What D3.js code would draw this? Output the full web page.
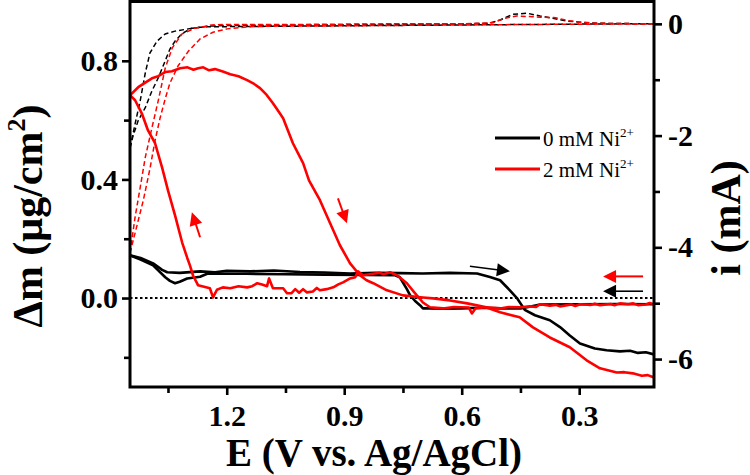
<!DOCTYPE html>
<html><head><meta charset="utf-8">
<script src="https://cdn.jsdelivr.net/npm/d3@7"></script>
<style>
html,body{margin:0;padding:0;background:#fff;}
svg{display:block;}
</style></head><body>
<svg id="chart" width="750" height="475"></svg>
<script>
// ---------------- data ----------------
const xTicks = [1.2, 0.9, 0.6, 0.3];
const xMinorTicks = [1.35, 1.05, 0.75, 0.45];
const massTicks = [0.0, 0.4, 0.8];
const massMinorTicks = [-0.2, 0.2, 0.6];
const currentTicks = [0, -2, -4, -6];
const currentMinorTicks = [-1, -3, -5];

const legendLabels = ["0 mM Ni", "2 mM Ni"];

// Δm (µg/cm²) vs E — 0 mM Ni2+ (black)
const massBlackForward = [[1.447,0.144],[1.42,0.135],[1.388,0.117],[1.365,0.095],[1.352,0.087],[1.32,0.085],[1.268,0.090],[1.23,0.087],[1.2,0.092],[1.14,0.090],[1.08,0.093],[1.013,0.088],[0.95,0.086],[0.885,0.083],[0.82,0.085],[0.758,0.084],[0.70,0.083],[0.63,0.085],[0.561,0.083],[0.528,0.071],[0.502,0.060],[0.477,0.026],[0.459,0.0],[0.439,-0.040],[0.413,-0.058],[0.375,-0.075],[0.349,-0.098],[0.324,-0.126],[0.298,-0.153],[0.26,-0.170],[0.23,-0.176],[0.196,-0.180],[0.17,-0.178],[0.15,-0.185],[0.13,-0.183],[0.109,-0.190]];
const massBlackReturn = [[0.109,-0.021],[0.2,-0.020],[0.3,-0.021],[0.4,-0.022],[0.43,-0.030],[0.45,-0.035],[0.5,-0.035],[0.55,-0.033],[0.6,-0.035],[0.648,-0.036],[0.681,-0.035],[0.699,-0.035],[0.706,-0.025],[0.719,-0.010],[0.732,0.010],[0.740,0.030],[0.758,0.070],[0.77,0.077],[0.85,0.078],[0.95,0.079],[1.05,0.080],[1.15,0.082],[1.23,0.083],[1.25,0.082],[1.268,0.072],[1.301,0.066],[1.32,0.055],[1.332,0.050],[1.345,0.058],[1.357,0.070],[1.388,0.110],[1.42,0.130],[1.447,0.144]];

// Δm vs E — 2 mM Ni2+ (red)
const massRedForward = [[1.447,0.684],[1.426,0.711],[1.41,0.725],[1.391,0.741],[1.375,0.748],[1.357,0.762],[1.34,0.765],[1.319,0.775],[1.30,0.778],[1.285,0.770],[1.273,0.775],[1.26,0.778],[1.245,0.768],[1.23,0.772],[1.21,0.764],[1.191,0.755],[1.17,0.748],[1.148,0.735],[1.13,0.722],[1.115,0.708],[1.098,0.685],[1.082,0.657],[1.068,0.630],[1.056,0.606],[1.031,0.522],[1.005,0.455],[0.990,0.397],[0.962,0.330],[0.936,0.252],[0.911,0.178],[0.885,0.117],[0.860,0.077],[0.843,0.060],[0.826,0.050],[0.791,0.026],[0.750,0.009],[0.699,0.002],[0.673,-0.001],[0.63,-0.008],[0.586,-0.018],[0.54,-0.030],[0.502,-0.048],[0.452,-0.065],[0.418,-0.099],[0.375,-0.133],[0.324,-0.166],[0.281,-0.210],[0.247,-0.237],[0.204,-0.251],[0.185,-0.250],[0.163,-0.254],[0.14,-0.262],[0.125,-0.260],[0.109,-0.268]];
const massRedReturn = [[0.109,-0.021],[0.12,-0.017],[0.13,-0.022],[0.15,-0.024],[0.162,-0.018],[0.175,-0.021],[0.196,-0.018],[0.21,-0.024],[0.22,-0.020],[0.247,-0.024],[0.26,-0.019],[0.27,-0.023],[0.298,-0.021],[0.31,-0.027],[0.32,-0.022],[0.349,-0.028],[0.36,-0.023],[0.375,-0.026],[0.40,-0.021],[0.41,-0.030],[0.426,-0.028],[0.45,-0.031],[0.48,-0.030],[0.502,-0.035],[0.54,-0.031],[0.565,-0.035],[0.574,-0.052],[0.582,-0.032],[0.62,-0.030],[0.648,-0.035],[0.681,-0.031],[0.699,-0.015],[0.719,0.016],[0.740,0.050],[0.765,0.077],[0.783,0.087],[0.80,0.080],[0.809,0.085],[0.835,0.080],[0.852,0.077],[0.865,0.090],[0.872,0.070],[0.885,0.066],[0.903,0.053],[0.915,0.046],[0.928,0.036],[0.945,0.030],[0.962,0.026],[0.97,0.034],[0.98,0.022],[0.995,0.019],[1.005,0.030],[1.015,0.018],[1.025,0.030],[1.035,0.016],[1.046,0.016],[1.056,0.033],[1.082,0.033],[1.092,0.066],[1.097,0.040],[1.11,0.046],[1.122,0.050],[1.135,0.040],[1.148,0.036],[1.17,0.040],[1.191,0.033],[1.21,0.036],[1.225,0.028],[1.235,0.002],[1.243,0.033],[1.258,0.038],[1.273,0.043],[1.286,0.076],[1.294,0.110],[1.301,0.136],[1.314,0.188],[1.332,0.279],[1.350,0.363],[1.365,0.440],[1.383,0.522],[1.401,0.565],[1.416,0.620],[1.434,0.667],[1.447,0.684]];

// i (mA) vs E — dashed current curves
const currentBlackA = [[1.447,-2.22],[1.434,-1.79],[1.421,-1.38],[1.408,-0.88],[1.396,-0.52],[1.378,-0.31],[1.357,-0.18],[1.332,-0.13],[1.289,-0.08],[1.243,-0.04],[1.2,-0.03],[1.0,-0.02],[0.8,-0.01],[0.6,0.0],[0.53,0.01],[0.502,0.07],[0.469,0.17],[0.433,0.19],[0.40,0.14],[0.367,0.10],[0.331,0.05],[0.298,0.03],[0.25,0.01],[0.109,0.0]];
const currentBlackB = [[1.447,-2.22],[1.439,-2.00],[1.426,-1.73],[1.408,-1.50],[1.391,-1.20],[1.375,-0.97],[1.357,-0.66],[1.345,-0.45],[1.332,-0.31],[1.314,-0.17],[1.289,-0.08],[1.255,-0.05],[1.2,-0.05],[1.0,-0.04],[0.8,-0.03],[0.6,-0.02],[0.4,-0.01],[0.2,0.0],[0.109,0.0]];
const currentRedC = [[1.447,-4.10],[1.434,-3.46],[1.421,-2.93],[1.408,-2.39],[1.391,-1.86],[1.375,-1.38],[1.357,-0.79],[1.339,-0.43],[1.314,-0.18],[1.281,-0.08],[1.238,-0.02],[1.2,-0.01],[1.0,-0.01],[0.8,0.0],[0.6,0.0],[0.52,0.02],[0.49,0.10],[0.46,0.14],[0.43,0.13],[0.40,0.12],[0.36,0.11],[0.33,0.06],[0.30,0.03],[0.25,0.01],[0.109,0.0]];
const currentRedD = [[1.447,-4.10],[1.431,-3.66],[1.413,-3.16],[1.396,-2.59],[1.383,-2.09],[1.370,-1.68],[1.357,-1.34],[1.345,-1.06],[1.324,-0.75],[1.298,-0.49],[1.268,-0.27],[1.235,-0.15],[1.199,-0.09],[1.140,-0.05],[1.063,-0.04],[1.0,-0.04],[0.8,-0.03],[0.6,-0.02],[0.4,-0.01],[0.109,0.0]];

// direction arrows (E, Δm)
const arrows = [
  {color:"#ff0000", from:[1.268,0.205], to:[1.289,0.289]},
  {color:"#ff0000", from:[0.916,0.336], to:[0.893,0.252]},
  {color:"#000000", from:[0.579,0.107], to:[0.477,0.090]},
  {color:"#ff0000", from:[0.137,0.073], to:[0.239,0.073]},
  {color:"#000000", from:[0.137,0.023], to:[0.239,0.023]}
];

// ---------------- layout ----------------
const W = 750, H = 475;
const L = 130, R = 654, T = 1.5, B = 387;
const RED = "#ff0000", BLACK = "#000000";
const serif = "'Liberation Serif','Times New Roman',Times,serif";

const svg = d3.select("#chart");
const x = d3.scaleLinear().domain([1.447, 0.109]).range([L, R]);
const yM = d3.scaleLinear().domain([-0.3, 1.0]).range([B, T]);
const yI = d3.scaleLinear().domain([-6.5, 0.4]).range([B, T]);

svg.append("defs").append("clipPath").attr("id","clip")
  .append("rect").attr("x",L).attr("y",T).attr("width",R-L).attr("height",B-T);

const plot = svg.append("g").attr("clip-path","url(#clip)");

const lineM = d3.line().x(d=>x(d[0])).y(d=>yM(d[1]));
const lineI = d3.line().x(d=>x(d[0])).y(d=>yI(d[1]));

// zero line (dotted)
plot.append("line").attr("x1",x(1.447)).attr("x2",x(0.109))
  .attr("y1",yM(0)).attr("y2",yM(0))
  .attr("stroke",BLACK).attr("stroke-width",2).attr("stroke-dasharray","2.5,2.5");

// dashed current curves
[[currentBlackA,BLACK],[currentBlackB,BLACK],[currentRedC,RED],[currentRedD,RED]].forEach(([d,c])=>{
  plot.append("path").datum(d).attr("d",lineI).attr("fill","none")
    .attr("stroke",c).attr("stroke-width",1.5).attr("stroke-dasharray","5,3");
});

// solid mass curves
[[massBlackReturn,BLACK],[massBlackForward,BLACK],[massRedReturn,RED],[massRedForward,RED]].forEach(([d,c])=>{
  plot.append("path").datum(d).attr("d",lineM).attr("fill","none")
    .attr("stroke",c).attr("stroke-width",2.6).attr("stroke-linejoin","round");
});

// arrows
arrows.forEach(a=>{
  const x1=x(a.from[0]), y1=yM(a.from[1]), x2=x(a.to[0]), y2=yM(a.to[1]);
  const ang=Math.atan2(y2-y1,x2-x1);
  const hl=13, hw=6.5;
  const bx=x2-hl*Math.cos(ang), by=y2-hl*Math.sin(ang);
  svg.append("line").attr("x1",x1).attr("y1",y1).attr("x2",bx+2*Math.cos(ang)).attr("y2",by+2*Math.sin(ang))
    .attr("stroke",a.color).attr("stroke-width",a.color===RED?2:1.6);
  const p=[[x2,y2],[bx+hw*Math.sin(ang),by-hw*Math.cos(ang)],[bx-hw*Math.sin(ang),by+hw*Math.cos(ang)]];
  svg.append("polygon").attr("points",p.map(q=>q.join(",")).join(" ")).attr("fill",a.color);
});

// frame
svg.append("rect").attr("x",L).attr("y",T).attr("width",R-L).attr("height",B-T)
  .attr("fill","none").attr("stroke",BLACK).attr("stroke-width",3);

function styleAxis(g){
  g.select(".domain").remove();
  g.selectAll(".tick line").attr("stroke",BLACK).attr("stroke-width",2.6);
  g.selectAll(".tick text").attr("font-family",serif).attr("font-weight","bold")
    .attr("font-size",30).attr("fill",BLACK);
}

// x axis
svg.append("g").attr("transform",`translate(0,${B})`)
  .call(d3.axisBottom(x).tickValues(xTicks).tickSize(8).tickPadding(10).tickFormat(d3.format(".1f")))
  .call(styleAxis);
svg.append("g").attr("transform",`translate(0,${B})`)
  .call(d3.axisBottom(x).tickValues(xMinorTicks).tickSize(6).tickFormat(""))
  .call(styleAxis);

// left axis
svg.append("g").attr("transform",`translate(${L},0)`)
  .call(d3.axisLeft(yM).tickValues(massTicks).tickSize(8).tickPadding(4).tickFormat(d3.format(".1f")))
  .call(styleAxis);
svg.append("g").attr("transform",`translate(${L},0)`)
  .call(d3.axisLeft(yM).tickValues(massMinorTicks).tickSize(6).tickFormat(""))
  .call(styleAxis);

// right axis
svg.append("g").attr("transform",`translate(${R},0)`)
  .call(d3.axisRight(yI).tickValues(currentTicks).tickSize(8).tickPadding(6).tickFormat(d=>String(d)))
  .call(styleAxis);
svg.append("g").attr("transform",`translate(${R},0)`)
  .call(d3.axisRight(yI).tickValues(currentMinorTicks).tickSize(6).tickFormat(""))
  .call(styleAxis);

// axis titles
svg.append("text").attr("x",374).attr("y",466).attr("text-anchor","middle")
  .attr("font-family",serif).attr("font-weight","bold").attr("font-size",39)
  .text("E (V vs. Ag/AgCl)");

const yt = svg.append("text").attr("transform","translate(42,216) rotate(-90)")
  .attr("text-anchor","middle").attr("font-family",serif).attr("font-weight","bold").attr("font-size",42);
yt.append("tspan").text("\u0394m (\u03bcg/cm");
yt.append("tspan").attr("font-size",26).attr("dy",-17).text("2");
yt.append("tspan").attr("dy",17).text(")");

svg.append("text").attr("transform","translate(740,218) rotate(-90)")
  .attr("text-anchor","middle").attr("font-family",serif).attr("font-weight","bold").attr("font-size",42)
  .text("i (mA)");

// legend
const leg = svg.append("g");
[[BLACK,138,146],[RED,169,177]].forEach(([c,ly,by],i)=>{
  leg.append("line").attr("x1",495).attr("x2",540).attr("y1",ly).attr("y2",ly)
    .attr("stroke",c).attr("stroke-width",3);
  const t = leg.append("text").attr("x",543).attr("y",by)
    .attr("font-family",serif).attr("font-size",21).attr("fill",BLACK);
  t.append("tspan").text(legendLabels[i]);
  t.append("tspan").attr("font-size",13).attr("dy",-9).text("2+");
});
</script></body></html>
